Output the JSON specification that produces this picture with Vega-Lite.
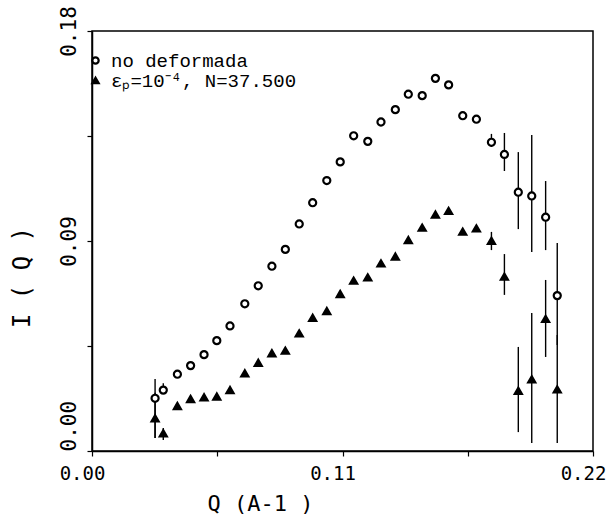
{
  "$schema": "https://vega.github.io/schema/vega-lite/v6.json",
  "width": 501,
  "height": 420,
  "autosize": {"type": "none"},
  "padding": {"left": 92, "top": 31, "right": 17, "bottom": 64},
  "background": "white",
  "config": {"view": {"stroke": "black", "strokeWidth": 1.5}},
  "datasets": {
    "pts": [
      {"q": 0.0277, "i": 0.0226, "s": "no deformada", "lo": 0.0056, "hi": 0.0309},
      {"q": 0.0313, "i": 0.0261, "s": "no deformada", "lo": 0.0245, "hi": 0.0290},
      {"q": 0.0375, "i": 0.0329, "s": "no deformada"},
      {"q": 0.0433, "i": 0.0366, "s": "no deformada"},
      {"q": 0.0492, "i": 0.0413, "s": "no deformada"},
      {"q": 0.0548, "i": 0.0473, "s": "no deformada"},
      {"q": 0.0606, "i": 0.0536, "s": "no deformada"},
      {"q": 0.0671, "i": 0.0631, "s": "no deformada"},
      {"q": 0.0730, "i": 0.0708, "s": "no deformada"},
      {"q": 0.0790, "i": 0.0792, "s": "no deformada"},
      {"q": 0.0849, "i": 0.0864, "s": "no deformada"},
      {"q": 0.0910, "i": 0.0973, "s": "no deformada"},
      {"q": 0.0969, "i": 0.1064, "s": "no deformada"},
      {"q": 0.1031, "i": 0.1159, "s": "no deformada"},
      {"q": 0.1090, "i": 0.1239, "s": "no deformada"},
      {"q": 0.1149, "i": 0.1351, "s": "no deformada"},
      {"q": 0.1211, "i": 0.1327, "s": "no deformada"},
      {"q": 0.1269, "i": 0.1410, "s": "no deformada"},
      {"q": 0.1332, "i": 0.1463, "s": "no deformada"},
      {"q": 0.1389, "i": 0.1529, "s": "no deformada"},
      {"q": 0.1450, "i": 0.1523, "s": "no deformada"},
      {"q": 0.1508, "i": 0.1597, "s": "no deformada"},
      {"q": 0.1566, "i": 0.1569, "s": "no deformada"},
      {"q": 0.1628, "i": 0.1437, "s": "no deformada"},
      {"q": 0.1688, "i": 0.1422, "s": "no deformada"},
      {"q": 0.1754, "i": 0.1323, "s": "no deformada", "lo": 0.1303, "hi": 0.1359},
      {"q": 0.1811, "i": 0.1271, "s": "no deformada", "lo": 0.1200, "hi": 0.1363},
      {"q": 0.1872, "i": 0.1109, "s": "no deformada", "lo": 0.0951, "hi": 0.1281},
      {"q": 0.1931, "i": 0.1093, "s": "no deformada", "lo": 0.0853, "hi": 0.1354},
      {"q": 0.1992, "i": 0.1002, "s": "no deformada", "lo": 0.0861, "hi": 0.1157},
      {"q": 0.2043, "i": 0.0666, "s": "no deformada", "lo": 0.0454, "hi": 0.0891},
      {"q": 0.0277, "i": 0.0140, "s": "εₚ=10⁻⁴, N=37.500", "lo": 0.0056, "hi": 0.0250},
      {"q": 0.0313, "i": 0.0076, "s": "εₚ=10⁻⁴, N=37.500", "lo": 0.0047, "hi": 0.0099},
      {"q": 0.0375, "i": 0.0193, "s": "εₚ=10⁻⁴, N=37.500"},
      {"q": 0.0433, "i": 0.0223, "s": "εₚ=10⁻⁴, N=37.500"},
      {"q": 0.0492, "i": 0.0230, "s": "εₚ=10⁻⁴, N=37.500"},
      {"q": 0.0548, "i": 0.0233, "s": "εₚ=10⁻⁴, N=37.500"},
      {"q": 0.0606, "i": 0.0261, "s": "εₚ=10⁻⁴, N=37.500"},
      {"q": 0.0671, "i": 0.0333, "s": "εₚ=10⁻⁴, N=37.500"},
      {"q": 0.0730, "i": 0.0378, "s": "εₚ=10⁻⁴, N=37.500"},
      {"q": 0.0790, "i": 0.0419, "s": "εₚ=10⁻⁴, N=37.500"},
      {"q": 0.0849, "i": 0.0430, "s": "εₚ=10⁻⁴, N=37.500"},
      {"q": 0.0910, "i": 0.0504, "s": "εₚ=10⁻⁴, N=37.500"},
      {"q": 0.0969, "i": 0.0571, "s": "εₚ=10⁻⁴, N=37.500"},
      {"q": 0.1031, "i": 0.0600, "s": "εₚ=10⁻⁴, N=37.500"},
      {"q": 0.1090, "i": 0.0673, "s": "εₚ=10⁻⁴, N=37.500"},
      {"q": 0.1149, "i": 0.0730, "s": "εₚ=10⁻⁴, N=37.500"},
      {"q": 0.1211, "i": 0.0744, "s": "εₚ=10⁻⁴, N=37.500"},
      {"q": 0.1269, "i": 0.0804, "s": "εₚ=10⁻⁴, N=37.500"},
      {"q": 0.1332, "i": 0.0833, "s": "εₚ=10⁻⁴, N=37.500"},
      {"q": 0.1389, "i": 0.0904, "s": "εₚ=10⁻⁴, N=37.500"},
      {"q": 0.1450, "i": 0.0957, "s": "εₚ=10⁻⁴, N=37.500"},
      {"q": 0.1508, "i": 0.1013, "s": "εₚ=10⁻⁴, N=37.500"},
      {"q": 0.1566, "i": 0.1029, "s": "εₚ=10⁻⁴, N=37.500"},
      {"q": 0.1628, "i": 0.0940, "s": "εₚ=10⁻⁴, N=37.500"},
      {"q": 0.1688, "i": 0.0954, "s": "εₚ=10⁻⁴, N=37.500"},
      {"q": 0.1754, "i": 0.0901, "s": "εₚ=10⁻⁴, N=37.500", "lo": 0.0861, "hi": 0.0939},
      {"q": 0.1811, "i": 0.0747, "s": "εₚ=10⁻⁴, N=37.500", "lo": 0.0669, "hi": 0.0844},
      {"q": 0.1872, "i": 0.0258, "s": "εₚ=10⁻⁴, N=37.500", "lo": 0.0081, "hi": 0.0446},
      {"q": 0.1931, "i": 0.0307, "s": "εₚ=10⁻⁴, N=37.500", "lo": 0.0034, "hi": 0.0591},
      {"q": 0.1992, "i": 0.0566, "s": "εₚ=10⁻⁴, N=37.500", "lo": 0.0403, "hi": 0.0733},
      {"q": 0.2043, "i": 0.0264, "s": "εₚ=10⁻⁴, N=37.500", "lo": 0.0034, "hi": 0.0497}
    ]
  },
  "data": {"name": "pts"},
  "encoding": {
    "x": {
      "field": "q",
      "type": "quantitative",
      "scale": {"domain": [0, 0.22], "nice": false, "zero": false},
      "axis": {
        "values": [0, 0.055, 0.11, 0.165, 0.22],
        "labelExpr": "abs(datum.value-0.055)<1e-6 || abs(datum.value-0.165)<1e-6 ? '' : format(datum.value,'.2f')",
        "grid": false,
        "domainColor": "black",
        "domainWidth": 1.5,
        "tickColor": "black",
        "tickWidth": 1.2,
        "tickSize": 5,
        "labelFont": "DejaVu Sans Mono",
        "labelFontSize": 19,
        "labelColor": "black",
        "labelPadding": 8,
        "labelOffset": -10,
        "labelFlush": false,
        "labelOverlap": false,
        "title": "Q  (A-1 )",
        "titleFont": "DejaVu Sans Mono",
        "titleFontSize": 22,
        "titleFontWeight": "normal",
        "titleColor": "black",
        "titleX": 168,
        "titleY": 52,
        "titleAlign": "center",
        "titleBaseline": "middle"
      }
    },
    "y": {
      "field": "i",
      "type": "quantitative",
      "scale": {"domain": [0, 0.18], "nice": false},
      "axis": {
        "values": [0, 0.045, 0.09, 0.135, 0.18],
        "labelExpr": "abs(datum.value-0.045)<1e-6 || abs(datum.value-0.135)<1e-6 ? '' : format(datum.value,'.2f')",
        "grid": false,
        "domainColor": "black",
        "domainWidth": 1.5,
        "tickColor": "black",
        "tickWidth": 1.2,
        "tickSize": 5,
        "labelFont": "DejaVu Sans Mono",
        "labelFontSize": 21,
        "labelColor": "black",
        "labelAngle": -90,
        "labelAlign": {"condition": {"test": "datum.value < 0.001", "value": "left"}, "value": "center"},
        "labelBaseline": "alphabetic",
        "labelPadding": 12,
        "labelFlush": false,
        "labelOverlap": false,
        "title": "I ( Q )",
        "titleFont": "DejaVu Sans Mono",
        "titleFontSize": 24,
        "titleFontWeight": "normal",
        "titleColor": "black",
        "titleX": -70,
        "titleY": 246,
        "titleAngle": -90,
        "titleAlign": "center",
        "titleBaseline": "middle"
      }
    }
  },
  "layer": [
    {
      "transform": [{"filter": "isValid(datum.lo)"}],
      "mark": {"type": "rule", "stroke": "black", "strokeWidth": 1.4},
      "encoding": {
        "y": {"field": "lo", "type": "quantitative"},
        "y2": {"field": "hi"}
      }
    },
    {
      "mark": {"type": "point", "strokeWidth": 2.2, "opacity": 1, "size": 50},
      "encoding": {
        "shape": {
          "field": "s",
          "type": "nominal",
          "scale": {"domain": ["no deformada", "εₚ=10⁻⁴, N=37.500"], "range": ["circle", "triangle-up"]},
          "legend": {
            "title": null,
            "orient": "none",
            "legendX": -6,
            "legendY": 20,
            "padding": 0,
            "labelFont": "Liberation Mono",
            "labelFontSize": 19,
            "labelColor": "black",
            "labelLimit": 500,
            "labelOffset": 6,
            "rowPadding": -1,
            "symbolSize": 40,
            "symbolStrokeWidth": 2.2
          }
        },
        "fill": {
          "field": "s",
          "type": "nominal",
          "scale": {"domain": ["no deformada", "εₚ=10⁻⁴, N=37.500"], "range": ["white", "black"]},
          "legend": {"title": null}
        },
        "stroke": {
          "field": "s",
          "type": "nominal",
          "scale": {"domain": ["no deformada", "εₚ=10⁻⁴, N=37.500"], "range": ["black", "black"]},
          "legend": {"title": null}
        }
      }
    }
  ]
}
